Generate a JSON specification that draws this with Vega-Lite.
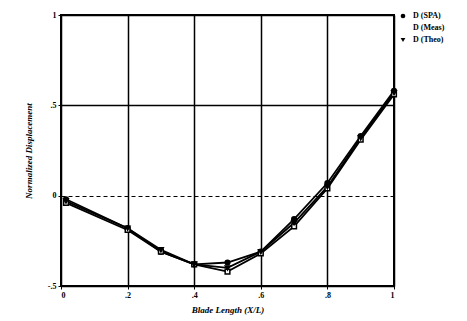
{
  "$schema": "https://vega.github.io/schema/vega-lite/v6.json",
  "width": 333,
  "height": 271,
  "autosize": {"type": "none"},
  "padding": {"left": 61, "top": 15, "right": 73, "bottom": 35},
  "background": "white",
  "config": {
    "view": {"stroke": "black", "strokeWidth": 2},
    "font": "Liberation Serif",
    "axis": {
      "domain": false,
      "labelFont": "Liberation Serif",
      "labelFontWeight": "bold",
      "labelFontSize": 8,
      "labelColor": "black",
      "titleFont": "Liberation Serif",
      "titleFontWeight": "bold",
      "titleFontStyle": "italic",
      "titleFontSize": 9,
      "titleColor": "black",
      "tickColor": "black",
      "tickSize": 3,
      "gridColor": "black",
      "gridOpacity": 1
    }
  },
  "data": {
    "values": [
      {"x": 0.015, "y": -0.02, "series": "D (SPA)"},
      {"x": 0.2, "y": -0.18, "series": "D (SPA)"},
      {"x": 0.3, "y": -0.31, "series": "D (SPA)"},
      {"x": 0.4, "y": -0.38, "series": "D (SPA)"},
      {"x": 0.5, "y": -0.37, "series": "D (SPA)"},
      {"x": 0.6, "y": -0.31, "series": "D (SPA)"},
      {"x": 0.7, "y": -0.13, "series": "D (SPA)"},
      {"x": 0.8, "y": 0.07, "series": "D (SPA)"},
      {"x": 0.9, "y": 0.33, "series": "D (SPA)"},
      {"x": 1.0, "y": 0.58, "series": "D (SPA)"},
      {"x": 0.015, "y": -0.04, "series": "D (Meas)"},
      {"x": 0.2, "y": -0.19, "series": "D (Meas)"},
      {"x": 0.3, "y": -0.31, "series": "D (Meas)"},
      {"x": 0.4, "y": -0.38, "series": "D (Meas)"},
      {"x": 0.5, "y": -0.42, "series": "D (Meas)"},
      {"x": 0.6, "y": -0.32, "series": "D (Meas)"},
      {"x": 0.7, "y": -0.17, "series": "D (Meas)"},
      {"x": 0.8, "y": 0.04, "series": "D (Meas)"},
      {"x": 0.9, "y": 0.31, "series": "D (Meas)"},
      {"x": 1.0, "y": 0.56, "series": "D (Meas)"},
      {"x": 0.015, "y": -0.03, "series": "D (Theo)"},
      {"x": 0.2, "y": -0.18, "series": "D (Theo)"},
      {"x": 0.3, "y": -0.30, "series": "D (Theo)"},
      {"x": 0.4, "y": -0.38, "series": "D (Theo)"},
      {"x": 0.5, "y": -0.40, "series": "D (Theo)"},
      {"x": 0.6, "y": -0.31, "series": "D (Theo)"},
      {"x": 0.7, "y": -0.15, "series": "D (Theo)"},
      {"x": 0.8, "y": 0.05, "series": "D (Theo)"},
      {"x": 0.9, "y": 0.32, "series": "D (Theo)"},
      {"x": 1.0, "y": 0.57, "series": "D (Theo)"}
    ]
  },
  "encoding": {
    "x": {
      "field": "x", "type": "quantitative",
      "scale": {"domain": [0, 1], "nice": false, "zero": false},
      "axis": {
        "values": [0, 0.2, 0.4, 0.6, 0.8, 1],
        "labelExpr": "datum.value == 0 ? '0' : datum.value == 1 ? '1' : replace(format(datum.value, '.1f'), '0.', '.')",
        "title": "Blade Length (X/L)",
        "titlePadding": 6,
        "grid": true,
        "gridWidth": 1.5
      }
    },
    "y": {
      "field": "y", "type": "quantitative",
      "scale": {"domain": [-0.5, 1], "nice": false, "zero": false},
      "axis": {
        "values": [-0.5, 0, 0.5, 1],
        "labelExpr": "datum.value == 0 ? '0' : datum.value == 1 ? '1' : datum.value == 0.5 ? '.5' : '-.5'",
        "title": "Normalized Displacement",
        "titlePadding": 14,
        "grid": true,
        "gridWidth": {"condition": {"test": "datum.value == 0", "value": 1}, "value": 1.5},
        "gridDash": {"condition": {"test": "datum.value == 0", "value": [4, 3]}, "value": []}
      }
    },
    "detail": {"field": "series"}
  },
  "layer": [
    {
      "mark": {"type": "line", "color": "black", "strokeWidth": 1.8}
    },
    {
      "mark": {"type": "point", "color": "black", "size": 22, "strokeWidth": 1.5, "opacity": 1},
      "encoding": {
        "shape": {
          "field": "series", "type": "nominal",
          "scale": {"domain": ["D (SPA)", "D (Meas)", "D (Theo)"], "range": ["circle", "square", "triangle-down"]},
          "legend": {
            "title": null,
            "orient": "none",
            "legendX": 338,
            "legendY": -3,
            "symbolSize": 22,
            "symbolOpacity": 1,
            "symbolStrokeColor": "black",
            "symbolStrokeWidth": 1.5,
            "labelFont": "Liberation Serif",
            "labelFontWeight": "bold",
            "labelFontSize": 8,
            "labelColor": "black",
            "labelOffset": 6,
            "rowPadding": 0
          }
        },
        "fill": {
          "field": "series", "type": "nominal",
          "scale": {"domain": ["D (SPA)", "D (Meas)", "D (Theo)"], "range": ["black", "white", "black"]}
        }
      }
    }
  ]
}
